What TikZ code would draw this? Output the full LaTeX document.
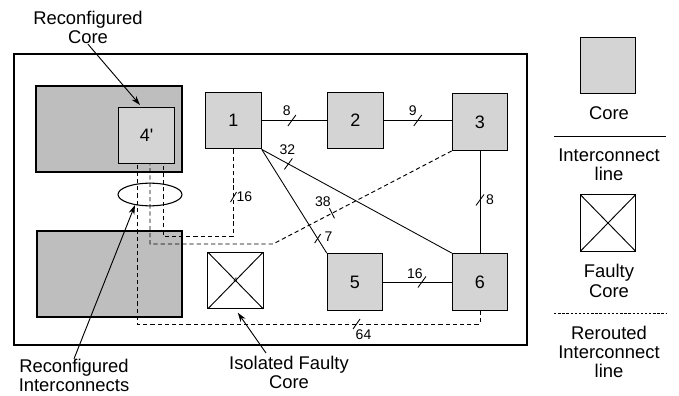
\documentclass[tikz,border=0pt]{standalone}
\usepackage{fontspec}
\setmainfont{Liberation Sans}
\usetikzlibrary{arrows.meta,calc,shapes.geometric}
\definecolor{coregray}{HTML}{D4D4D4}
\definecolor{blockgray}{HTML}{BEBEBE}
\tikzset{
  core/.style={draw, line width=0.9pt, fill=coregray, minimum width=41.5pt, minimum height=42.5pt, inner sep=0pt, font=\fontsize{13.5}{15}\selectfont},
  faulty/.style={draw, line width=0.9pt, fill=white, minimum width=41.5pt, minimum height=42.5pt, inner sep=0pt, font=\fontsize{5}{6}\selectfont,
    path picture={\draw[line width=0.7pt] (path picture bounding box.north west) -- (path picture bounding box.south east)
      (path picture bounding box.north east) -- (path picture bounding box.south west);}},
  wire/.style={line width=0.65pt},
  reroute/.style={line width=0.7pt, dash pattern=on 3.2pt off 2.2pt},
  busmark/.style={line width=0.65pt},
  num/.style={inner sep=0pt, font=\fontsize{10.5}{12}\selectfont},
  caption/.style={inner sep=0pt, align=center, font=\fontsize{13.8}{14.5}\selectfont},
  pointer/.style={line width=0.7pt, -{Stealth[length=7pt,width=4.5pt]}},
}
\begin{document}
\begin{tikzpicture}[x=0.75pt, y=-0.75pt]
  \useasboundingbox (0,0) rectangle (679,396);
  % Chip outline and regions
  \draw[line width=2.2pt] (14,54) rectangle (527,345);
  \draw[line width=0.8pt, fill=blockgray] (36,86) rectangle (182,172);
  \draw[line width=0.8pt, fill=blockgray] (37,231) rectangle (182,317);
  % Cores
  \node[core] (c4) at (146.5,135.5) {4\textquotesingle};
  \node[core] (c1) at (233.5,120.5) {1};
  \node[core] (c2) at (355.5,120.5) {2};
  \node[core] (c3) at (480,122) {3};
  \node[core] (c5) at (355,282) {5};
  \node[core] (c6) at (480,282) {6};
  \node[faulty] (fc) at (235.5,280.5) {4};
  % Ports and bends
  \coordinate (p1) at ($(c4.south)+(-9.5,0)$);
  \coordinate (p2) at ($(c4.south)+(3.5,0)$);
  \coordinate (p3) at ($(c4.south)+(16.5,0)$);
  \coordinate (b1) at (233.5,236);
  \coordinate (b2) at (163,236);
  \coordinate (b3) at (273,244);
  \coordinate (b4) at (150,244);
  \coordinate (b5) at (480,324);
  \coordinate (b6) at (137,324);
  % Interconnect lines
  \draw[wire] (c1) -- coordinate[pos=0.46] (m12) (c2);
  \draw[wire] (c2) -- coordinate[pos=0.5] (m23) (c3.west |- c2);
  \draw[wire] (c3) -- coordinate[pos=0.48] (m36) (c6);
  \draw[wire] (c5) -- coordinate[pos=0.565] (m56) (c6);
  \draw[wire] (c1.south east) -- coordinate[pos=0.14] (m16) (c6.north west);
  \draw[wire] (c1.south east) -- coordinate[pos=0.86] (m15) (c5.north west);
  % Rerouted lines
  \draw[reroute] (c1.south) -- coordinate[pos=0.55] (m14) (b1) -- (b2) -- (p3);
  \draw[reroute] (c3.south west) -- coordinate[pos=0.67] (m34) (b3) -- (b4) -- (p2);
  \draw[reroute] (c6.south) -- (b5) -- coordinate[pos=0.36] (m64) (b6) -- (p1);
  \node[draw, ellipse, line width=0.8pt, minimum width=48pt, minimum height=17pt, inner sep=0pt] (el) at (150,194.5) {};
  % Bus widths
  \draw[busmark] (m12) ++(-4,5.5) -- ++(8,-11);
  \node[num] (n12) at ($(m12)+(-5,-10)$) {8};
  \draw[busmark] (m23) ++(-4,5.5) -- ++(8,-11);
  \node[num] (n23) at ($(m23)+(-5,-10)$) {9};
  \draw[busmark] (m36) ++(-4,5.5) -- ++(8,-11);
  \node[num] (n36) at ($(m36)+(10,0)$) {8};
  \draw[busmark] (m56) ++(-4,5.5) -- ++(8,-11);
  \node[num] (n56) at ($(m56)+(-7,-8)$) {16};
  \draw[busmark] (m16) ++(-4,5.5) -- ++(8,-11);
  \node[num] (n16) at ($(m16)+(-1,-14.5)$) {32};
  \draw[busmark] (m15) ++(-3,4.5) -- ++(6,-9);
  \node[num] (n15) at ($(m15)+(11,-2)$) {7};
  \draw[busmark] (m14) ++(-3,5) -- ++(6,-10);
  \node[num] (n14) at ($(m14)+(11,0)$) {16};
  \draw[busmark] (m34) ++(-2.5,-5) -- ++(5,10);
  \node[num] (n34) at ($(m34)+(-9,-12)$) {38};
  \draw[busmark] (m64) ++(-3.5,5) -- ++(7,-10);
  \node[num] (n64) at ($(m64)+(7,11)$) {64};
  % Callouts
  \node[caption] (trc) at (88,27.5) {Reconfigured\\Core};
  \node[caption] (tri) at (74,375.5) {Reconfigured\\Interconnects};
  \node[caption] (tifc) at (289,372.5) {Isolated Faulty\\Core};
  \coordinate (rcend) at (140,105);
  \coordinate (ifcstart) at (266,353);
  \draw[pointer] (trc.south) -- (rcend);
  \draw[pointer] (tri.north) -- (el.215);
  \draw[pointer, shorten >=3pt] (ifcstart) -- (fc.south);
  % Legend
  \node[core] (lcore) at (608,65.5) {};
  \node[caption] (tcore) at (609,113) {Core};
  \coordinate (la) at (554,136);
  \coordinate (lb) at (666,136);
  \draw[wire] (la) -- (lb);
  \node[caption] (tline) at (609,164.5) {Interconnect\\line};
  \node[faulty] (lfault) at (608,223) {};
  \node[caption] (tfault) at (609,281) {Faulty\\Core};
  \coordinate (ra) at (554,313);
  \coordinate (rb) at (666,313);
  \draw[line width=0.6pt, dash pattern=on 1.8pt off 1.3pt] (ra) -- (rb);
  \node[caption] (treroute) at (609,352) {Rerouted\\Interconnect\\line};
\end{tikzpicture}
\end{document}
